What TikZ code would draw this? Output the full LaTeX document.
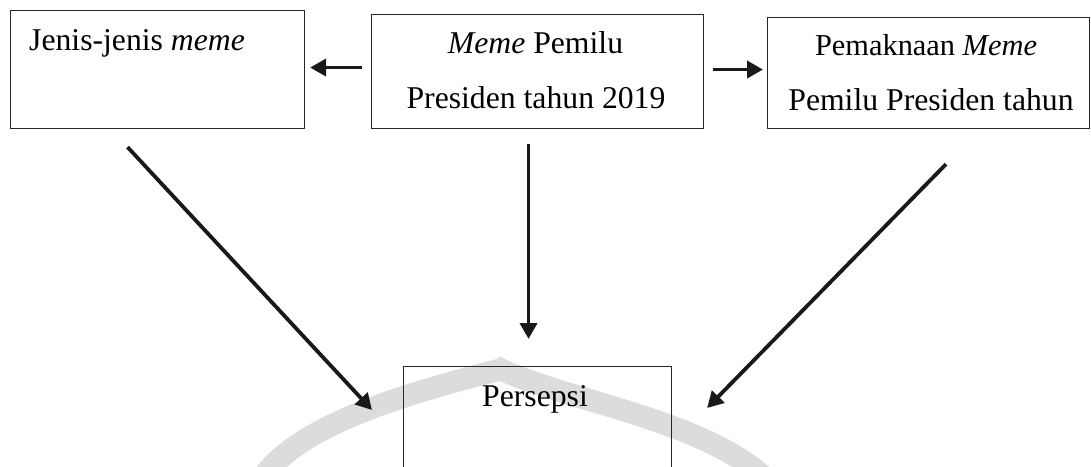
\documentclass[tikz,border=0pt]{standalone}
\usepackage{fontspec}
\setmainfont{Liberation Serif}
\usetikzlibrary{arrows.meta}
\definecolor{wm}{HTML}{DCDCDC}
\tikzset{
  box/.style={draw=black!85, line width=1.1pt, fill=none, inner sep=0pt, anchor=north west},
  txt/.style={inner sep=0pt, font=\fontsize{31.7}{38}\selectfont},
  txtsm/.style={inner sep=0pt, font=\fontsize{30.4}{36}\selectfont},
  arr/.style={line width=3.8pt, draw=black!90, -{Triangle[length=16pt,width=17pt]}},
  wmark/.style={line width=22pt, draw=wm, line cap=butt}
}
\begin{document}
\begin{tikzpicture}[x=1pt,y=-1pt]
\useasboundingbox (0,0) rectangle (1091,466);
\clip (0,0) rectangle (1091,466);
% watermark
\draw[wmark] (262,478) .. controls (300,425) and (400,395) .. (506,368);
\draw[wmark] (494,366) .. controls (560,400) and (700,418) .. (765,478);
% boxes
\node[box, minimum width=294pt, minimum height=118pt] (L) at (10,10) {};
\node[box, minimum width=332pt, minimum height=114pt] (M) at (371,14) {};
\node[box, minimum width=322pt, minimum height=111pt] (R) at (767,17) {};
\node[box, minimum width=268pt, minimum height=140pt] (B) at (403,366) {};
% texts
\node[txt, anchor=base west] (tL) at (29,50) {Jenis-jenis \textit{meme}};
\node[txt, anchor=base] (tM1) at (535.5,53) {\textit{Meme} Pemilu};
\node[txt, anchor=base] (tM2) at (536,108) {Presiden tahun 2019};
\node[txtsm, anchor=base] (tR1) at (926,55) {Pemaknaan \textit{Meme}};
\node[txt, anchor=base] (tR2) at (931,110) {Pemilu Presiden tahun};
\node[txt, anchor=base] (tB) at (535,406) {Persepsi};
% connectors
\draw[arr] ([xshift=-9pt,yshift=4pt]M.west) -- ([xshift=5pt,yshift=2pt]L.east);
\draw[arr] ([xshift=9pt,yshift=2pt]M.east) -- ([xshift=-4pt,yshift=3.5pt]R.west);
\draw[arr] ([xshift=-30pt,yshift=-18pt]L.south) -- ([xshift=-31pt,yshift=-44pt]B.north west);
\draw[arr] ([xshift=17.5pt,yshift=-35pt]R.south) -- ([xshift=35pt,yshift=-42pt]B.north east);
\draw[arr] ([xshift=-9pt,yshift=-15pt]M.south) -- ([xshift=-9pt,yshift=27pt]B.north);
\end{tikzpicture}
\end{document}
